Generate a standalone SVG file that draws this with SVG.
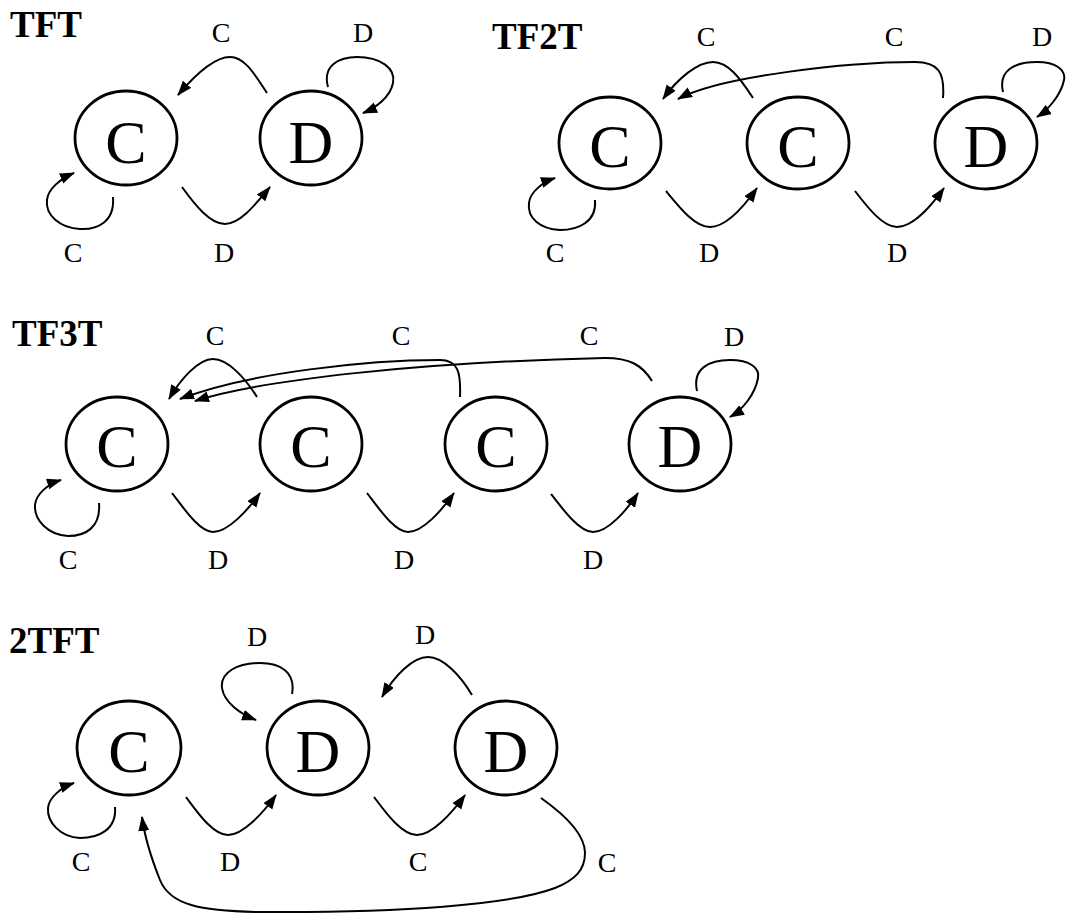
<svg xmlns="http://www.w3.org/2000/svg" width="1067" height="916" viewBox="0 0 1067 916">
<defs>
<style>
.node ellipse{fill:none;stroke:#000;stroke-width:2.8}
.big{font-family:"Liberation Serif","Times New Roman",serif;font-size:62px;text-anchor:middle;fill:#000}
.lbl{font-family:"Liberation Serif","Times New Roman",serif;font-size:28px;text-anchor:middle;fill:#000}
.title{font-family:"Liberation Serif","Times New Roman",serif;font-size:37px;font-weight:bold;fill:#000}
#connectors path{fill:none;stroke:#000;stroke-width:2;marker-end:url(#ah)}
</style>
<marker id="ah" markerUnits="userSpaceOnUse" markerWidth="16" markerHeight="12" refX="14" refY="5.5" orient="auto">
<path d="M0,0 L15,5.5 L0,11 z" fill="#000"/>
</marker>
</defs>
<rect width="1067" height="916" fill="#fff"/>

<g id="titles">
<text class="title" x="10" y="37">TFT</text>
<text class="title" x="492" y="49">TF2T</text>
<text class="title" x="12" y="346">TF3T</text>
<text class="title" x="9" y="653">2TFT</text>
</g>

<!-- TFT -->
<g id="tft-c" class="node"><ellipse cx="126" cy="138" rx="51" ry="47"/><text class="big" x="126" y="163">C</text></g>
<g id="tft-d" class="node"><ellipse cx="311" cy="138" rx="51" ry="47"/><text class="big" x="311" y="163">D</text></g>

<!-- TF2T -->
<g id="tf2t-c1" class="node"><ellipse cx="610" cy="143" rx="51" ry="46"/><text class="big" x="610" y="167">C</text></g>
<g id="tf2t-c2" class="node"><ellipse cx="798" cy="143" rx="51" ry="46"/><text class="big" x="798" y="167">C</text></g>
<g id="tf2t-d" class="node"><ellipse cx="986" cy="143" rx="51" ry="46"/><text class="big" x="986" y="167">D</text></g>

<!-- TF3T -->
<g id="tf3t-c1" class="node"><ellipse cx="117" cy="444" rx="51" ry="47"/><text class="big" x="117" y="467">C</text></g>
<g id="tf3t-c2" class="node"><ellipse cx="311" cy="444" rx="51" ry="47"/><text class="big" x="311" y="467">C</text></g>
<g id="tf3t-c3" class="node"><ellipse cx="496" cy="444" rx="51" ry="47"/><text class="big" x="496" y="467">C</text></g>
<g id="tf3t-d" class="node"><ellipse cx="680" cy="444" rx="51" ry="47"/><text class="big" x="680" y="467">D</text></g>

<!-- 2TFT -->
<g id="t2ft-c" class="node"><ellipse cx="129" cy="748" rx="52" ry="47"/><text class="big" x="129" y="772">C</text></g>
<g id="t2ft-d1" class="node"><ellipse cx="318" cy="748" rx="51" ry="47"/><text class="big" x="318" y="772">D</text></g>
<g id="t2ft-d2" class="node"><ellipse cx="506" cy="748" rx="51" ry="47"/><text class="big" x="506" y="772">D</text></g>

<g id="connectors">
<!-- TFT -->
<path d="M113,197 C115,222 97,230 80,229 C60,228 45,215 47,200 C48,189 60,179 74,173"/>
<path d="M182,187 C195,205 210,224 225,224 C240,224 255,205 270,187"/>
<path d="M267,93 C255,75 245,57 230,57 C215,57 195,75 178,95"/>
<path d="M328,87 C322,65 340,57 357,57 C380,57 396,68 393,83 C390,98 375,108 363,113"/>
<!-- TF2T -->
<path d="M595,200 C597,222 578,230 560,230 C540,229 527,218 529,203 C530,192 543,182 555,178"/>
<path d="M666,191 C680,208 695,227 710,227 C727,227 745,205 757,188"/>
<path d="M855,191 C868,208 883,227 897,227 C913,227 932,205 944,188"/>
<path d="M753,98 C740,78 728,62 713,62 C698,62 678,78 663,99"/>
<path d="M943,98 C945,72 938,62 915,62 C850,62 720,76 678,99"/>
<path d="M1003,92 C998,70 1015,62 1037,62 C1056,62 1066,70 1064,80 C1061,95 1048,110 1037,117"/>
<!-- TF3T -->
<path d="M99,503 C101,528 85,536 68,536 C48,535 34,520 35,505 C36,494 48,484 61,480"/>
<path d="M172,493 C185,510 200,532 213,532 C228,532 248,510 260,493"/>
<path d="M367,493 C380,510 395,532 408,532 C423,532 442,510 454,493"/>
<path d="M551,494 C564,511 580,532 593,532 C608,532 627,510 638,493"/>
<path d="M257,397 C245,378 228,359 213,359 C198,359 180,380 169,399"/>
<path d="M460,397 C461,372 458,360 440,360 C370,360 250,372 180,399"/>
<path d="M652,381 C642,365 630,358 605,358 C420,362 260,380 195,401"/>
<path d="M697,391 C692,368 710,360 730,360 C750,360 760,368 758,378 C755,395 742,410 730,417"/>
<!-- 2TFT -->
<path d="M115,807 C117,830 98,838 80,838 C60,837 47,822 48,808 C49,797 62,787 74,783"/>
<path d="M186,797 C198,813 213,835 228,835 C243,835 263,813 276,795"/>
<path d="M374,797 C386,813 402,835 417,835 C432,835 452,813 465,795"/>
<path d="M472,695 C460,675 443,657 428,657 C413,657 395,675 382,697"/>
<path d="M292,694 C296,672 280,663 260,663 C238,663 220,672 222,688 C224,702 240,714 256,720"/>
<path d="M541,798 C565,815 585,835 585,853 C585,870 575,880 555,888 C510,905 400,913 260,912 C200,911 170,905 160,880 C152,860 145,840 142,817"/>
</g>

<g id="labels">
<!-- TFT -->
<text class="lbl" x="221" y="42">C</text>
<text class="lbl" x="363" y="42">D</text>
<text class="lbl" x="73" y="262">C</text>
<text class="lbl" x="224" y="262">D</text>
<!-- TF2T -->
<text class="lbl" x="706" y="46">C</text>
<text class="lbl" x="894" y="46">C</text>
<text class="lbl" x="1042" y="46">D</text>
<text class="lbl" x="555" y="262">C</text>
<text class="lbl" x="709" y="262">D</text>
<text class="lbl" x="897" y="262">D</text>
<!-- TF3T -->
<text class="lbl" x="215" y="345">C</text>
<text class="lbl" x="401" y="345">C</text>
<text class="lbl" x="589" y="345">C</text>
<text class="lbl" x="734" y="346">D</text>
<text class="lbl" x="68" y="569">C</text>
<text class="lbl" x="218" y="569">D</text>
<text class="lbl" x="404" y="569">D</text>
<text class="lbl" x="593" y="569">D</text>
<!-- 2TFT -->
<text class="lbl" x="257" y="646">D</text>
<text class="lbl" x="425" y="644">D</text>
<text class="lbl" x="81" y="871">C</text>
<text class="lbl" x="230" y="871">D</text>
<text class="lbl" x="418" y="871">C</text>
<text class="lbl" x="607" y="872">C</text>
</g>
</svg>
